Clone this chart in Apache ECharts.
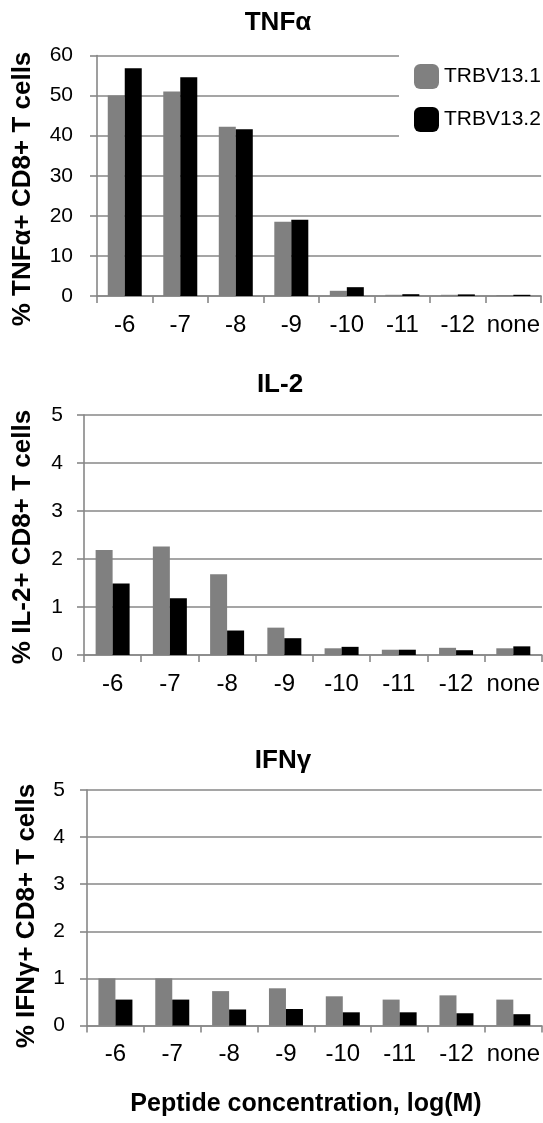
<!DOCTYPE html>
<html><head><meta charset="utf-8">
<script src="https://cdn.jsdelivr.net/npm/echarts@6/dist/echarts.min.js"></script>
<style>html,body{margin:0;padding:0;background:#fff}#c{width:543px;height:1123px}</style>
</head><body><div id="c"></div>
<script>
// ---- data ----
const categories = ['-6', '-7', '-8', '-9', '-10', '-11', '-12', 'none'];
const seriesNames = ['TRBV13.1', 'TRBV13.2'];
const panelTitles = ['TNFα', 'IL-2', 'IFNγ'];
const yAxisTitles = ['% TNFα+ CD8+ T cells', '% IL-2+ CD8+ T cells', '% IFNγ+ CD8+ T cells'];
const xAxisTitle = 'Peptide concentration, log(M)';
const tnfTRBV131 = [50.0, 51.0, 42.2, 18.5, 1.3, 0.3, 0.3, 0.25];
const tnfTRBV132 = [56.8, 54.6, 41.6, 19.0, 2.2, 0.45, 0.4, 0.3];
const il2TRBV131 = [2.19, 2.26, 1.68, 0.57, 0.14, 0.11, 0.15, 0.14];
const il2TRBV132 = [1.49, 1.18, 0.51, 0.35, 0.17, 0.11, 0.10, 0.18];
const ifnTRBV131 = [1.0, 1.0, 0.73, 0.79, 0.62, 0.55, 0.64, 0.55];
const ifnTRBV132 = [0.55, 0.55, 0.34, 0.35, 0.28, 0.28, 0.26, 0.24];
const yMax = [60, 5, 5];
const yInterval = [10, 1, 1];

// ---- styling / layout ----
const FONT = '"Liberation Sans", Arial, sans-serif';
const AX = '#878787';
const colors = ['#808080', '#000000'];
const grids = [
  { left: 97, right: 1, top: 55.5, height: 240.5 },
  { left: 84, right: 1, top: 415, height: 240 },
  { left: 87, right: 1, top: 790, height: 235.5 }
];
const yLabelMargin = [24, 21, 22];
const panelData = [[tnfTRBV131, tnfTRBV132], [il2TRBV131, il2TRBV132], [ifnTRBV131, ifnTRBV132]];

const xAxes = grids.map((g, i) => ({
  type: 'category', gridIndex: i, data: categories,
  axisLine: { show: true, lineStyle: { color: AX, width: 1.6 } },
  axisTick: { show: true, length: 7, interval: 0, lineStyle: { color: AX, width: 1.6 } },
  axisLabel: { interval: 0, fontSize: 24, color: '#000', fontFamily: FONT, margin: 17 },
  splitLine: { show: false }
}));
const yAxes = grids.map((g, i) => ({
  type: 'value', gridIndex: i, min: 0, max: yMax[i], interval: yInterval[i],
  axisLine: { show: true, lineStyle: { color: AX, width: 1.6 } },
  axisTick: { show: true, length: 7, lineStyle: { color: AX, width: 1.6 } },
  axisLabel: { fontSize: 21, color: '#000', fontFamily: FONT, margin: yLabelMargin[i] },
  splitLine: { show: true, lineStyle: { color: AX, width: 1.6 } }
}));
const series = [];
panelData.forEach((pair, i) => {
  pair.forEach((vals, k) => {
    series.push({
      type: 'bar', name: seriesNames[k], xAxisIndex: i, yAxisIndex: i,
      data: vals, barWidth: 17, barGap: '0%',
      itemStyle: { color: colors[k] }, silent: true
    });
  });
});

const titlePos = [[278, 22.5], [280, 384.5], [283, 760.5]];
const yTitlePos = [[23, 189], [23, 537], [27, 916]];
const graphic = [];
panelTitles.forEach((t, i) => graphic.push({
  type: 'text', x: titlePos[i][0], y: titlePos[i][1], silent: true,
  style: { text: t, align: 'center', verticalAlign: 'middle', font: 'bold 26px ' + FONT, fill: '#000' }
}));
yAxisTitles.forEach((t, i) => graphic.push({
  type: 'text', x: yTitlePos[i][0], y: yTitlePos[i][1], rotation: Math.PI / 2, silent: true,
  style: { text: t, align: 'center', verticalAlign: 'middle', font: 'bold 26px ' + FONT, fill: '#000' }
}));
graphic.push({
  type: 'text', x: 306, y: 1104, silent: true,
  style: { text: xAxisTitle, align: 'center', verticalAlign: 'middle', font: 'bold 25px ' + FONT, fill: '#000' }
});

const chart = echarts.init(document.getElementById('c'), null, { renderer: 'canvas' });
chart.setOption({
  animation: false,
  backgroundColor: '#fff',
  grid: grids,
  xAxis: xAxes,
  yAxis: yAxes,
  series: series,
  legend: {
    data: seriesNames, orient: 'vertical', left: 399, top: 50,
    padding: [14, 5, 14, 15], backgroundColor: '#fff',
    itemWidth: 25, itemHeight: 25, itemGap: 18, icon: 'roundRect',
    selectedMode: false,
    textStyle: { fontSize: 21, color: '#000', fontFamily: FONT }
  },
  graphic: graphic
});
</script>
</body></html>
